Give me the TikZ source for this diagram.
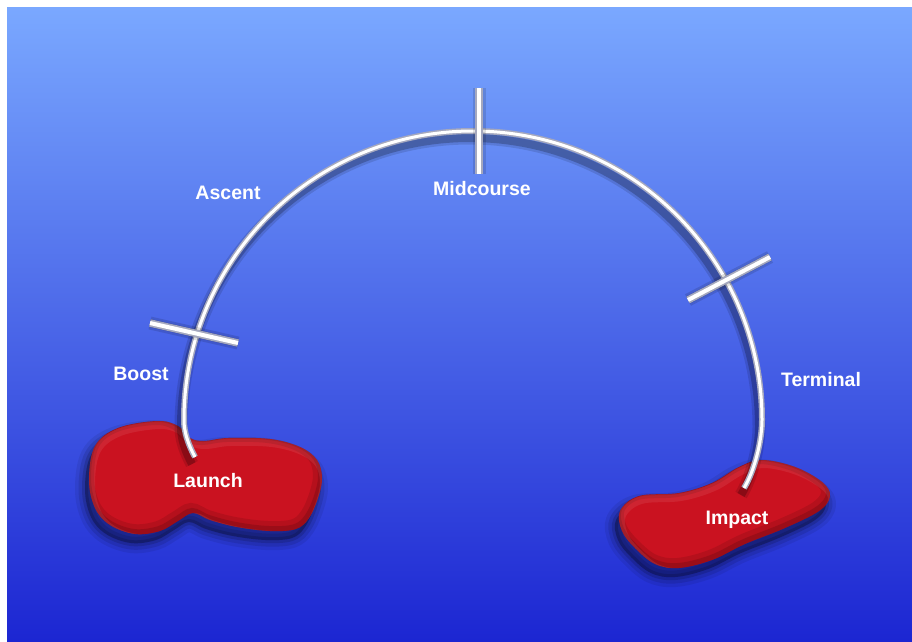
\documentclass[tikz,border=0pt]{standalone}
\usepackage{fontspec}
\setmainfont{Liberation Sans}
\definecolor{bgtop}{RGB}{122,168,255}
\definecolor{bgmid}{RGB}{70,102,232}
\definecolor{bgbot}{RGB}{28,38,210}
\definecolor{blobred}{RGB}{202,18,32}
\definecolor{tubegray}{RGB}{165,168,190}
\def\launchpath{plot[smooth cycle, tension=0.6] coordinates {(89,480) (95,446) (118,428) (157,421) (178,426) (190,438) (204,441) (228,438) (270,439) (300,447) (317,460) (322,478) (318,498) (309,518) (296,529) (270,531) (237,527) (210,520) (193,513) (178,521) (160,531) (135,534) (110,525) (95,508)}}
\def\impactpath{plot[smooth cycle, tension=0.6] coordinates {(620,511) (639,496) (679,493) (712,483) (739,467) (762,460) (795,467) (822,482) (830,496) (819,511) (785,528) (745,544) (712,560) (679,568) (655,564) (635,548) (622,531)}}
\def\arcpath{(195,457) .. controls (188,444) and (184,432) .. (184,420) arc[start angle=180, end angle=360, radius=289] .. controls (762,440) and (755,470) .. (744,488)}
\begin{document}
\begin{tikzpicture}[x=1pt,y=-1pt,
  lbl/.style={text=white, font=\fontsize{19.5}{22}\selectfont\bfseries, inner sep=0pt, anchor=base},
  shadowsoft/.style={draw=black, opacity=0.12, line width=13pt, shift={(-3,7)}},
  shadowhard/.style={draw=black, opacity=0.22, line width=8pt, shift={(-3,7)}},
  tubebody/.style={draw=tubegray, line width=6pt},
  tubecore/.style={draw=white, line width=3pt},
  tickbody/.style={draw=tubegray, line width=7.5pt},
  tickcore/.style={draw=white, line width=4pt}
]
\useasboundingbox (0,0) rectangle (912,641);
\fill[white] (0,0) rectangle (912,641);
\shade[top color=bgtop, middle color=bgmid, bottom color=bgbot] (7,7) rectangle (912,641);

% blob shadows
\foreach \w/\o in {20/0.07,13/0.1,6/0.14}{
  \filldraw[black, opacity=\o, line width=\w pt, line join=round, shift={(-4,9)}] \launchpath;
  \filldraw[black, opacity=\o, line width=\w pt, line join=round, shift={(-4,9)}] \impactpath;
}
% blobs with soft bevel
\foreach \p in {\launchpath,\impactpath}{
  \fill[blobred] \p;
  \begin{scope}
    \clip \p;
    \draw[black, opacity=0.1, line width=14pt, shift={(-2,-3)}] \p;
    \draw[black, opacity=0.14, line width=6pt, shift={(-1,-2)}] \p;
    \draw[white, opacity=0.08, line width=8pt, shift={(2,4)}] \p;
  \end{scope}
}

% trajectory tube
\draw[shadowsoft] \arcpath;
\draw[shadowhard] \arcpath;
\draw[tubebody] \arcpath;
\draw[tubecore] \arcpath;

% tick marks
\coordinate (boostA) at (150,323); \coordinate (boostB) at (238,343);
\coordinate (midA) at (479,88);    \coordinate (midB) at (479,174);
\coordinate (termA) at (688,300);  \coordinate (termB) at (770,257);
\foreach \a/\b in {boostA/boostB, midA/midB, termA/termB}{
  \draw[shadowsoft] (\a) -- (\b);
  \draw[shadowhard] (\a) -- (\b);
  \draw[tickbody] (\a) -- (\b);
  \draw[tickcore] (\a) -- (\b);
}

% labels
\foreach \n/\x/\y/\t in {ascent/228/199/Ascent, midcourse/482/195/Midcourse, boost/141/380/Boost, launch/208/487/Launch, terminal/821/386/Terminal, impact/737/524/Impact}{
  \node[lbl] (\n) at (\x,\y) {\t};
}
\end{tikzpicture}
\end{document}
